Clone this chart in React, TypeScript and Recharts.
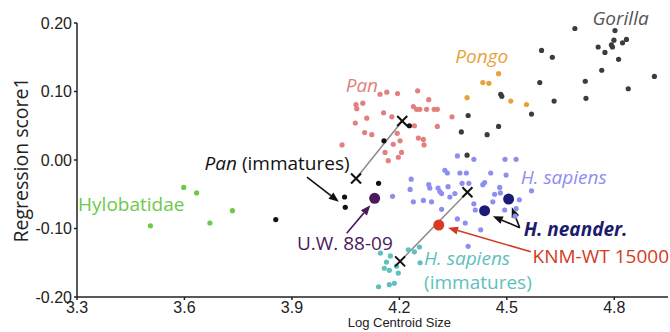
import { ScatterChart, Scatter, XAxis, YAxis, ReferenceLine, ReferenceDot } from 'recharts';

type Pt = { x: number; y: number };
const pts = (a: number[][]): Pt[] => a.map(([x, y]) => ({ x, y }));

// group samples (x = log centroid size, y = regression score 1)
const gorilla = pts([
  [4.690, 0.192], [4.802, 0.189], [4.799, 0.175], [4.834, 0.176], [4.823, 0.171], [4.792, 0.168],
  [4.795, 0.165], [4.755, 0.165], [4.774, 0.157], [4.812, 0.147], [4.597, 0.160], [4.627, 0.150],
  [4.765, 0.131], [4.912, 0.122], [4.592, 0.113], [4.719, 0.115], [4.839, 0.104], [4.632, 0.086],
  [4.721, 0.090], [4.483, 0.096], [4.486, 0.093], [4.569, 0.067], [4.392, 0.065], [4.477, 0.049],
  [4.373, 0.041], [4.445, 0.037], [4.389, 0.007],
]);
const pongo = pts([[4.477, 0.126], [4.433, 0.113], [4.450, 0.112], [4.389, 0.091], [4.511, 0.086], [4.555, 0.081]]);
const pan = pts([
  [4.146, 0.096], [4.165, 0.099], [4.195, 0.097], [4.251, 0.101], [4.282, 0.088], [4.079, 0.081],
  [4.081, 0.075], [4.098, 0.083], [4.239, 0.078], [4.248, 0.074], [4.257, 0.074], [4.276, 0.074],
  [4.297, 0.074], [4.306, 0.074], [4.156, 0.069], [4.179, 0.063], [4.109, 0.061], [4.077, 0.054],
  [4.347, 0.063], [4.306, 0.049], [4.242, 0.050], [4.103, 0.040], [4.123, 0.037], [4.194, 0.039],
  [4.253, 0.032], [4.267, 0.030], [4.202, 0.028], [4.183, 0.023], [4.269, 0.022], [4.040, 0.022],
  [4.160, 0.011], [4.206, 0.011], [4.197, 0.004], [4.169, -0.001],
]);
const panImmatures = pts([[4.157, 0.028], [4.228, 0.050], [4.142, -0.034], [4.047, -0.054], [4.049, -0.069], [3.855, -0.087]]);
const hylobatidae = pts([[3.598, -0.040], [3.634, -0.048], [3.505, -0.096], [3.671, -0.092], [3.734, -0.074]]);
const hSapiens = pts([
  [4.362, 0.006], [4.408, 0.001], [4.495, 0.001], [4.526, 0.001], [4.327, -0.015], [4.334, -0.019],
  [4.369, -0.019], [4.387, -0.019], [4.455, -0.019], [4.498, -0.022], [4.233, -0.028], [4.375, -0.034],
  [4.394, -0.034], [4.438, -0.033], [4.433, -0.036], [4.282, -0.036], [4.285, -0.041], [4.308, -0.041],
  [4.313, -0.046], [4.318, -0.049], [4.336, -0.039], [4.230, -0.043], [4.480, -0.040], [4.569, -0.045],
  [4.355, -0.049], [4.466, -0.050], [4.482, -0.048], [4.181, -0.053], [4.239, -0.061], [4.267, -0.059],
  [4.290, -0.061], [4.341, -0.054], [4.535, -0.058], [4.461, -0.061], [4.408, -0.064], [4.318, -0.072],
  [4.412, -0.073], [4.494, -0.073], [4.526, -0.071], [4.523, -0.082], [4.362, -0.086], [4.384, -0.092],
  [4.427, -0.102], [4.392, -0.126],
]);
const hSapiensImmatures = pts([
  [4.147, -0.136], [4.175, -0.140], [4.164, -0.149], [4.158, -0.158], [4.172, -0.161], [4.192, -0.155],
  [4.225, -0.131], [4.242, -0.134], [4.256, -0.127], [4.258, -0.150], [4.197, -0.165], [4.142, -0.185],
  [4.172, -0.182], [4.186, -0.180],
]);
const uw8809 = pts([[4.131, -0.056]]);
const neander = pts([[4.438, -0.074], [4.505, -0.057]]);
const knmWt15000 = pts([[4.310, -0.095]]);

// group means (X markers) and the immature -> adult trajectories
const panMean = { x: 4.208, y: 0.057 };
const panImmMean = { x: 4.079, y: -0.027 };
const hSapMean = { x: 4.390, y: -0.047 };
const hSapImmMean = { x: 4.202, y: -0.148 };
const means = [panMean, panImmMean, hSapMean, hSapImmMean];

const xTicks = [3.3, 3.6, 3.9, 4.2, 4.5, 4.8];
const yTicks = [-0.2, -0.1, 0, 0.1, 0.2];
const X_DOMAIN: [number, number] = [3.3, 4.95];

const LABEL_FONT = '"Open Sans", sans-serif';
const AXIS_FONT = '"Liberation Sans", Arial, sans-serif';
const AXIS_COLOR = '#222';

const dot = (fill: string, r = 2.6) => (p: any) => <circle cx={p.cx} cy={p.cy} r={r} fill={fill} />;

const cross = (p: any) => (
  <g stroke="#111" strokeWidth={2}>
    <line x1={p.cx - 5} y1={p.cy - 5} x2={p.cx + 5} y2={p.cy + 5} />
    <line x1={p.cx - 5} y1={p.cy + 5} x2={p.cx + 5} y2={p.cy - 5} />
  </g>
);

const arrow = (color: string) => (p: any) => {
  const { x1, y1, x2, y2 } = p;
  const a = Math.atan2(y2 - y1, x2 - x1);
  const len = 10, half = 4;
  const bx = x2 - len * Math.cos(a), by = y2 - len * Math.sin(a);
  const ox = -Math.sin(a) * half, oy = Math.cos(a) * half;
  return (
    <g>
      <line x1={x1} y1={y1} x2={bx} y2={by} stroke={color} strokeWidth={1.6} />
      <polygon points={`${x2},${y2} ${bx + ox},${by + oy} ${bx - ox},${by - oy}`} fill={color} />
    </g>
  );
};

const trajectory = (p: any) => (
  <line x1={p.x1} y1={p.y1} x2={p.x2} y2={p.y2} stroke="#8a8a8a" strokeWidth={1.5} />
);

type Note = { x: number; y: number; color: string; italic?: boolean; bold?: boolean; text: React.ReactNode };

const notes: Note[] = [
  { x: 4.739, y: 0.197, color: '#555', italic: true, text: 'Gorilla' },
  { x: 4.356, y: 0.142, color: '#e8a23a', italic: true, text: 'Pongo' },
  { x: 4.050, y: 0.099, color: '#e37f7f', italic: true, text: 'Pan' },
  { x: 4.539, y: -0.035, color: '#8e8ef0', italic: true, text: 'H. sapiens' },
  { x: 4.547, y: -0.111, color: '#1c1c6e', italic: true, bold: true, text: 'H. neander.' },
  { x: 4.572, y: -0.150, color: '#d33a22', text: 'KNM-WT 15000' },
  { x: 4.269, y: -0.153, color: '#5fc0bd', italic: true, text: 'H. sapiens' },
  { x: 4.269, y: -0.188, color: '#5fc0bd', text: '(immatures)' },
  { x: 3.303, y: -0.074, color: '#6cc94a', text: 'Hylobatidae' },
  { x: 3.656, y: -0.015, color: '#111', text: <><tspan fontStyle="italic">Pan</tspan> (immatures)</> },
  { x: 3.914, y: -0.131, color: '#4b1a5e', text: 'U.W. 88-09' },
];

const arrows = [
  { from: { x: 3.942, y: -0.025 }, to: { x: 4.031, y: -0.061 }, color: '#111' },
  { from: { x: 4.053, y: -0.107 }, to: { x: 4.119, y: -0.066 }, color: '#4b1a5e' },
  { from: { x: 4.536, y: -0.099 }, to: { x: 4.461, y: -0.082 }, color: '#111' },
  { from: { x: 4.536, y: -0.099 }, to: { x: 4.514, y: -0.069 }, color: '#111' },
  { from: { x: 4.567, y: -0.134 }, to: { x: 4.336, y: -0.099 }, color: '#d33a22' },
];

const noteShape = (n: Note) => (p: any) => (
  <text
    x={p.cx}
    y={p.cy}
    fill={n.color}
    fontSize={19}
    fontFamily={LABEL_FONT}
    fontStyle={n.italic ? 'italic' : 'normal'}
    fontWeight={n.bold ? 700 : 400}
  >
    {n.text}
  </text>
);

export default function App() {
  return (
    <div style={{ position: 'absolute', left: 0, top: 0, background: '#fff' }}>
      <ScatterChart width={670} height={332} margin={{ top: 23, right: 2, bottom: 0, left: 0 }}>
        <XAxis
          type="number"
          dataKey="x"
          domain={X_DOMAIN}
          ticks={xTicks}
          allowDataOverflow
          height={35}
          tickSize={3}
          tickMargin={2}
          tickFormatter={(v: number) => v.toFixed(1)}
          stroke={AXIS_COLOR}
          strokeWidth={1.5}
          tick={{ fill: AXIS_COLOR, fontSize: 16, fontFamily: AXIS_FONT }}
          label={{
            content: ({ viewBox }: any) => (
              <text
                x={viewBox.x + ((4.2 - X_DOMAIN[0]) / (X_DOMAIN[1] - X_DOMAIN[0])) * viewBox.width}
                y={viewBox.y + 30}
                textAnchor="middle"
                fill={AXIS_COLOR}
                fontSize={13}
                fontFamily={AXIS_FONT}
              >
                Log Centroid Size
              </text>
            ),
          }}
        />
        <YAxis
          type="number"
          dataKey="y"
          domain={[-0.2, 0.2]}
          ticks={yTicks}
          allowDataOverflow
          width={77}
          tickSize={3}
          tickMargin={2}
          tickFormatter={(v: number) => v.toFixed(2)}
          stroke={AXIS_COLOR}
          strokeWidth={1.5}
          tick={{ fill: AXIS_COLOR, fontSize: 16, fontFamily: AXIS_FONT }}
          label={{
            content: ({ viewBox }: any) => {
              const cx = viewBox.x + 20;
              const cy = viewBox.y + viewBox.height / 2;
              return (
                <text
                  x={cx}
                  y={cy}
                  transform={`rotate(-90 ${cx} ${cy})`}
                  textAnchor="middle"
                  dominantBaseline="central"
                  fill={AXIS_COLOR}
                  fontSize={19.5}
                  fontFamily={LABEL_FONT}
                >
                  Regression score1
                </text>
              );
            },
          }}
        />

        <ReferenceLine segment={[panImmMean, panMean]} shape={trajectory} />
        <ReferenceLine segment={[hSapImmMean, hSapMean]} shape={trajectory} />

        <Scatter data={hylobatidae} shape={dot('#6cc94a')} isAnimationActive={false} />
        <Scatter data={gorilla} shape={dot('#3c3c3c')} isAnimationActive={false} />
        <Scatter data={pongo} shape={dot('#e8a23a')} isAnimationActive={false} />
        <Scatter data={pan} shape={dot('#e37f7f')} isAnimationActive={false} />
        <Scatter data={hSapiens} shape={dot('#8e8ef0')} isAnimationActive={false} />
        <Scatter data={hSapiensImmatures} shape={dot('#5fc0bd')} isAnimationActive={false} />
        <Scatter data={panImmatures} shape={dot('#111')} isAnimationActive={false} />
        <Scatter data={uw8809} shape={dot('#4b1a5e', 5.5)} isAnimationActive={false} />
        <Scatter data={neander} shape={dot('#1c1c78', 5.5)} isAnimationActive={false} />
        <Scatter data={knmWt15000} shape={dot('#d93a22', 5.5)} isAnimationActive={false} />
        <Scatter data={means} shape={cross} isAnimationActive={false} />

        {arrows.map((a, i) => (
          <ReferenceLine key={`a${i}`} segment={[a.from, a.to]} shape={arrow(a.color)} ifOverflow="visible" />
        ))}
        {notes.map((n, i) => (
          <ReferenceDot key={`n${i}`} x={n.x} y={n.y} shape={noteShape(n)} ifOverflow="visible" />
        ))}
      </ScatterChart>
    </div>
  );
}
